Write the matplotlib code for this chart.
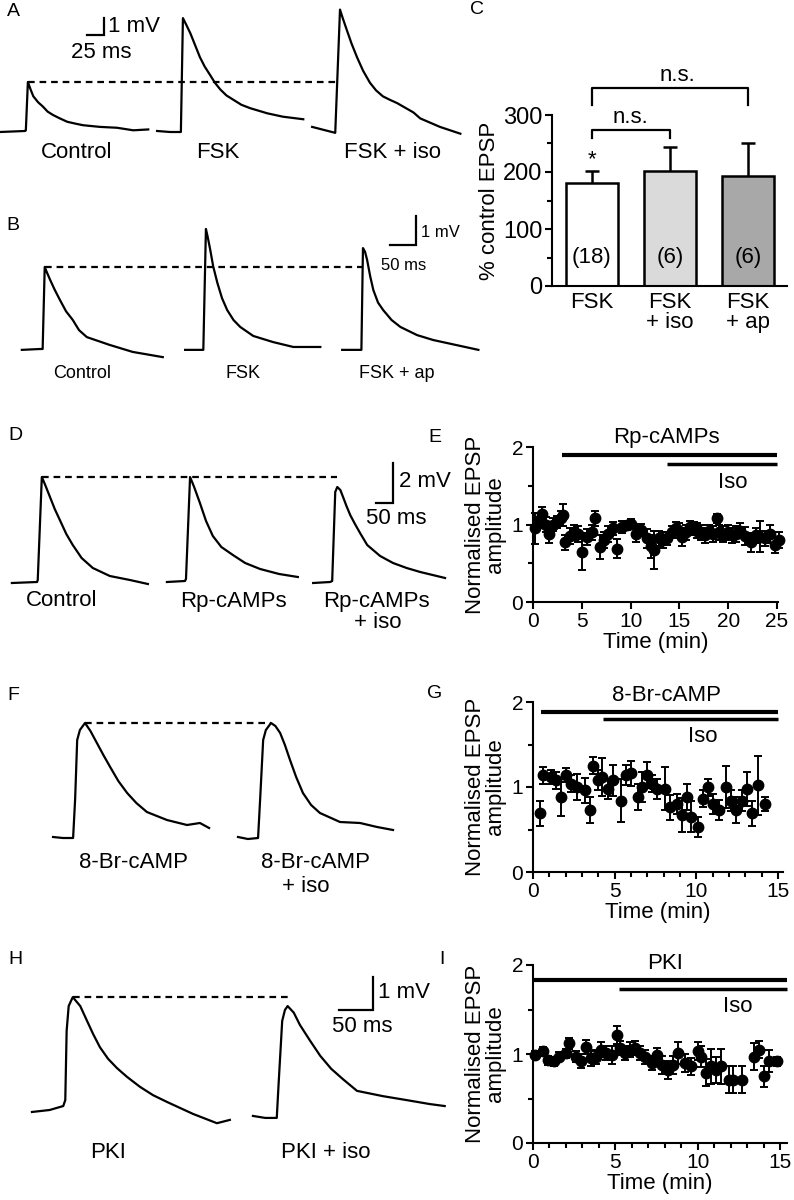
import numpy as np
import matplotlib
matplotlib.use("Agg")
import matplotlib.pyplot as plt
from matplotlib.ticker import MultipleLocator

plt.rcParams['font.family'] = ['Liberation Sans', 'DejaVu Sans']

W, H = 794, 1200

# ---- EPSP traces: time (ms from trace start), voltage (mV from baseline) ----
a_ctrl_t = [0, 37, 38, 41, 45, 49, 56, 63, 70, 78, 88, 99, 110, 122, 147, 172, 196, 218]
a_ctrl_v = [0, 0.06, 0.1, 2.94, 2.5, 2.1, 1.75, 1.5, 1.2, 1.0, 0.8, 0.6, 0.5, 0.4, 0.3, 0.25,
            0.1, 0.15]
a_fsk_t = [0, 19, 35, 38, 43, 49, 56, 63, 70, 78, 85, 93, 102, 112, 124, 137, 162, 185, 215]
a_fsk_v = [0.06, 0, 0, 6.7, 6.3, 5.8, 5.1, 4.4, 3.85, 3.35, 2.9, 2.5, 2.15, 1.9, 1.6, 1.4,
           1.1, 0.9, 0.75]
a_iso_t = [0, 34, 41, 45, 51, 58, 66, 75, 85, 94, 104, 114, 125, 149, 159, 188, 218]
a_iso_v = [0.3, -0.05, 7.2, 6.7, 6.0, 5.2, 4.4, 3.6, 2.9, 2.45, 2.1, 1.9, 1.7, 1.15, 0.8,
           0.3, -0.1]

b_ctrl_t = [0, 35, 40, 44, 48, 54, 63, 73, 85, 98, 110, 125, 169, 213, 271]
b_ctrl_v = [-0.03, 0, 0, 2.83, 2.65, 2.4, 2.05, 1.7, 1.3, 1.0, 0.65, 0.41, 0.14, -0.1, -0.28]
b_fsk_t = [0, 35, 40, 43, 48, 54, 62, 71, 81, 93, 106, 131, 169, 208, 260]
b_fsk_v = [-0.03, -0.03, 4.14, 3.9, 3.45, 2.85, 2.28, 1.75, 1.34, 1.0, 0.76, 0.45, 0.24,
           0.07, 0.07]
b_ap_t = [0, 37, 40, 44, 48, 54, 60, 69, 79, 95, 112, 144, 175, 262]
b_ap_v = [-0.03, -0.03, 3.48, 3.35, 3.07, 2.5, 2.03, 1.6, 1.34, 1.0, 0.76, 0.48, 0.31, -0.03]

d_ctrl_t = [0, 74, 76, 88, 98, 112, 126, 141, 160, 179, 205, 238, 288, 347, 400]
d_ctrl_v = [-0.05, 0, 0.1, 5.25, 4.85, 4.25, 3.65, 3.1, 2.4, 1.85, 1.2, 0.7, 0.3, 0.1, -0.1]
d_rp_t = [0, 53, 56, 68, 80, 97, 115, 135, 160, 194, 230, 274, 330, 385]
d_rp_v = [0, 0.05, 0.15, 5.25, 4.75, 3.95, 3.05, 2.3, 1.75, 1.35, 0.95, 0.65, 0.4, 0.25]
d_iso_t = [0, 50, 56, 65, 71, 80, 88, 98, 109, 123, 138, 159, 197, 235, 275, 315, 388]
d_iso_v = [-0.05, 0, 0.05, 4.5, 4.75, 4.6, 4.25, 3.8, 3.35, 2.9, 2.45, 1.85, 1.3, 0.95, 0.7,
           0.5, 0.2]

f_br_t = [0, 29, 59, 65, 71, 79, 94, 110, 129, 148, 168, 192, 218, 245, 276, 335, 394, 432,
          459]
f_br_v = [0, -0.05, -0.05, 1.9, 4.85, 5.35, 5.7, 5.3, 4.7, 4.1, 3.5, 2.8, 2.2, 1.7, 1.25,
          0.85, 0.6, 0.7, 0.45]
f_iso_t = [0, 29, 59, 65, 74, 82, 97, 110, 124, 138, 153, 171, 191, 215, 241, 300, 359, 409,
           456]
f_iso_v = [0, -0.1, -0.05, 1.85, 4.85, 5.35, 5.7, 5.55, 5.2, 4.6, 3.85, 3.0, 2.2, 1.6, 1.2,
           0.75, 0.7, 0.5, 0.35]

h_pki_t = [0, 26, 46, 49, 51, 54, 60, 71, 81, 90, 100, 112, 125, 140, 159, 178, 199, 237,
           272, 291]
h_pki_v = [-0.06, 0, 0.12, 0.3, 2.4, 3.15, 3.42, 3.15, 2.7, 2.3, 1.9, 1.55, 1.27, 1.0, 0.7,
           0.45, 0.24, -0.12, -0.4, -0.3]
h_iso_t = [0, 18, 35, 38, 43, 47, 51, 60, 69, 84, 99, 115, 132, 153, 191, 226, 260, 282]
h_iso_v = [-0.18, -0.24, -0.24, 0.9, 2.7, 3.03, 3.15, 2.95, 2.58, 2.1, 1.64, 1.25, 0.94,
           0.58, 0.42, 0.3, 0.18, 0.12]

# ---- panel C ----
c_labels = ['FSK', 'FSK\n+ iso', 'FSK\n+ ap']
c_means = [181, 201, 193]
c_sem = [21, 43, 58]
c_n = ['(18)', '(6)', '(6)']
c_colors = ['white', '#dadada', '#a8a8a8']

# ---- panel E ----
e_t = [0.2, 0.5, 0.9, 1.3, 1.6, 2.0, 2.5, 2.9, 3.1, 3.3, 3.8, 4.2, 4.6, 5.0, 5.5,
       6.0, 6.4, 6.9, 7.3, 7.7, 8.2, 8.6, 9.1, 9.6, 10.0, 10.6, 11.1, 11.7, 12.1, 12.4,
       12.9, 13.3, 13.7, 14.2, 14.6, 15.0, 15.3, 15.7, 16.1, 16.5, 16.8, 17.2, 17.6, 18.0,
       18.4, 18.8, 19.1, 19.5, 20.0, 20.4, 20.8, 21.2, 21.7, 22.3, 22.8, 23.3, 23.8, 24.3,
       24.8, 25.2]
e_v = [0.95, 1.05, 1.14, 1.0, 0.88, 1.0, 1.03, 1.08, 1.12, 0.77, 0.85, 0.9, 0.88, 0.65, 0.84,
       0.9, 1.08, 0.71, 0.8, 0.88, 0.95, 0.69, 0.97, 0.99, 1.01, 0.88, 0.93, 0.82, 0.72, 0.67,
       0.82, 0.8, 0.82, 0.9, 0.95, 0.92, 0.84, 0.9, 0.97, 0.95, 0.92, 0.9, 0.86, 0.92,
       0.88, 1.08, 0.9, 0.88, 0.9, 0.86, 0.88, 0.92, 0.85, 0.77, 0.86, 0.84, 0.82, 0.88,
       0.73, 0.8]
e_e = [0.2, 0.1, 0.08, 0.1, 0.12, 0.08, 0.08, 0.1, 0.14, 0.1, 0.1, 0.1, 0.1, 0.24, 0.1,
       0.1, 0.1, 0.15, 0.1, 0.1, 0.08, 0.12, 0.08, 0.06, 0.06, 0.1, 0.08, 0.12, 0.15, 0.24,
       0.1, 0.1, 0.08, 0.08, 0.08, 0.1, 0.12, 0.1, 0.08, 0.08, 0.1, 0.1, 0.1, 0.08,
       0.1, 0.06, 0.1, 0.1, 0.1, 0.1, 0.1, 0.1, 0.12, 0.12, 0.1, 0.2, 0.1, 0.12,
       0.1, 0.1]

# ---- panel G ----
g_t = [0.4, 0.6, 1.1, 1.4, 1.7, 2.0, 2.3, 2.7, 3.2, 3.5, 3.7, 4.0, 4.2, 4.6, 4.9, 5.4,
       5.7, 6.0, 6.4, 6.7, 7.0, 7.3, 7.6, 8.1, 8.4, 8.8, 9.1, 9.4, 9.7, 10.1, 10.4, 10.7,
       11.0, 11.4, 11.8, 12.1, 12.4, 12.8, 13.1, 13.4, 13.8, 14.2]
g_v = [0.69, 1.14, 1.12, 1.08, 0.88, 1.14, 1.04, 1.0, 0.96, 0.73, 1.25, 1.08, 1.12, 0.98,
       1.08, 0.84, 1.14, 1.16, 0.88, 1.0, 1.14, 1.04, 0.98, 0.98, 0.76, 0.8, 0.67, 0.88,
       0.65, 0.53, 0.86, 1.0, 0.8, 0.73, 1.0, 0.84, 0.73, 0.84, 0.98, 0.69, 1.02, 0.8]
g_e = [0.15, 0.1, 0.08, 0.1, 0.22, 0.08, 0.1, 0.15, 0.15, 0.15, 0.1, 0.12, 0.22, 0.12,
       0.18, 0.25, 0.12, 0.15, 0.15, 0.18, 0.15, 0.1, 0.12, 0.25, 0.15, 0.12, 0.2, 0.15,
       0.18, 0.12, 0.1, 0.1, 0.12, 0.12, 0.25, 0.12, 0.15, 0.12, 0.2, 0.15, 0.35, 0.08]

# ---- panel I ----
i_t = [0.1, 0.6, 0.9, 1.3, 1.6, 2.0, 2.2, 2.6, 2.9, 3.2, 3.5, 3.8, 4.1, 4.4, 4.8, 5.1,
       5.3, 5.6, 5.9, 6.2, 6.5, 6.8, 7.2, 7.5, 7.8, 8.2, 8.5, 8.8, 9.2, 9.6, 10.0, 10.2,
       10.5, 10.8, 11.1, 11.4, 11.9, 12.1, 12.7, 13.4, 13.7, 14.0, 14.3, 14.8]
i_v = [0.99, 1.03, 0.93, 0.92, 0.97, 1.01, 1.12, 0.97, 0.92, 1.08, 0.95, 0.97, 1.05, 1.01,
       0.99, 1.21, 1.07, 1.01, 1.05, 1.07, 1.01, 0.97, 0.9, 0.99, 0.88, 0.82, 0.88, 1.01,
       0.9, 0.86, 1.03, 0.97, 0.79, 0.86, 0.82, 0.86, 0.71, 0.71, 0.71, 0.97, 1.05, 0.75,
       0.92, 0.92]
i_e = [0.04, 0.05, 0.05, 0.05, 0.05, 0.05, 0.06, 0.06, 0.08, 0.08, 0.08, 0.08, 0.08, 0.08,
       0.1, 0.1, 0.08, 0.08, 0.08, 0.08, 0.08, 0.08, 0.08, 0.08, 0.1, 0.1, 0.1, 0.12,
       0.1, 0.1, 0.1, 0.12, 0.15, 0.2, 0.15, 0.2, 0.15, 0.15, 0.15, 0.15, 0.1, 0.12,
       0.12, 0.05]

fig = plt.figure(figsize=(W / 100, H / 100), dpi=100)


def px_axes(x0, y0, x1, y1):
    return fig.add_axes([x0 / W, 1 - y1 / H, (x1 - x0) / W, (y1 - y0) / H])


def ptext(x, y, s, size=16, ha='center', va='center', **kw):
    fig.text(x / W, 1 - y / H, s, fontsize=size, ha=ha, va=va, **kw)


def trace_row(y0, y1, base, px_ms, px_mv, traces, offsets):
    ax = px_axes(0, y0, 480, y1)
    ax.set_xlim(0, 480 / px_ms)
    ax.set_ylim((base - y1) / px_mv, (base - y0) / px_mv)
    ax.axis('off')
    for (t, v), off in zip(traces, offsets):
        ax.plot(np.asarray(t) + off, v, color='k', lw=1.6, solid_joinstyle='round')
    t0, v0 = traces[0]
    tl, vl = traces[-1]
    i0, il = int(np.argmax(v0)), int(np.argmax(vl))
    ax.plot([t0[i0] + offsets[0], tl[il] + offsets[-1]], [v0[i0], v0[i0]],
            color='k', lw=1.6, ls=(0, (3, 2.2)))
    return ax


def scale_bar(ax, x_px, y_px, base, px_ms, px_mv, ms, mv):
    t = x_px / px_ms
    v = (base - y_px) / px_mv
    ax.plot([t - ms, t, t], [v, v, v + mv], color='k', lw=1.6, solid_joinstyle='miter')


# A
ax = trace_row(0, 150, 132, 0.68, 17,
               [(a_ctrl_t, a_ctrl_v), (a_fsk_t, a_fsk_v), (a_iso_t, a_iso_v)], [0, 231, 459])
scale_bar(ax, 104, 35, 132, 0.68, 17, 25, 1)
ptext(108, 26, '1 mV', ha='left')
ptext(101, 52, '25 ms')
for x, s in zip([77, 218, 392], ['Control', 'FSK', 'FSK + iso']):
    ptext(x, 153, s)

# B
ax = trace_row(200, 365, 349, 0.52, 29,
               [(b_ctrl_t, b_ctrl_v), (b_fsk_t, b_fsk_v), (b_ap_t, b_ap_v)], [42, 356, 658])
scale_bar(ax, 416, 245, 349, 0.52, 29, 50, 1)
ptext(421, 233, '1 mV', size=12, ha='left')
ptext(404, 266, '50 ms', size=12)
for x, s in zip([82, 243, 397], ['Control', 'FSK', 'FSK + ap']):
    ptext(x, 373, s, size=13)

# D
ax = trace_row(460, 600, 582, 0.34, 20,
               [(d_ctrl_t, d_ctrl_v), (d_rp_t, d_rp_v), (d_iso_t, d_iso_v)], [35, 491, 921])
scale_bar(ax, 393, 503, 582, 0.34, 20, 50, 2)
ptext(399, 482, '2 mV', ha='left')
ptext(396, 518, '50 ms')
ptext(62, 601, 'Control')
ptext(233, 601, 'Rp-cAMPs')
ptext(376, 601, 'Rp-cAMPs')
ptext(378, 623, '+ iso')

# F
trace_row(710, 845, 837, 0.34, 20, [(f_br_t, f_br_v), (f_iso_t, f_iso_v)], [156, 700])
ptext(133, 862, '8-Br-cAMP')
ptext(316, 862, '8-Br-cAMP')
ptext(306, 886, '+ iso')

# H
ax = trace_row(975, 1130, 1110, 0.68, 33, [(h_pki_t, h_pki_v), (h_iso_t, h_iso_v)], [47, 372])
scale_bar(ax, 373, 1010, 1110, 0.68, 33, 50, 1)
ptext(378, 992, '1 mV', ha='left')
ptext(362, 1027, '50 ms')
ptext(108, 1152, 'PKI')
ptext(326, 1152, 'PKI + iso')

# panel letters
for x, y, s in [(13, 12, 'A'), (13, 225, 'B'), (477, 10, 'C'), (15, 435, 'D'), (435, 437, 'E'),
                (13, 695, 'F'), (435, 693, 'G'), (15, 960, 'H'), (442, 960, 'I')]:
    ptext(x, y, s, size=14)


def style_axes(ax):
    for sp in ['top', 'right']:
        ax.spines[sp].set_visible(False)
    for sp in ['left', 'bottom']:
        ax.spines[sp].set_linewidth(1.5)
    ax.tick_params(which='both', direction='out', width=1.5, labelsize=15, pad=2)
    ax.tick_params(which='major', length=5)
    ax.tick_params(which='minor', length=3.5)


# C
axc = px_axes(552, 115, 787, 286)
x = np.arange(len(c_means))
axc.bar(x, c_means, width=0.67, color=c_colors, edgecolor='k', linewidth=1.8, zorder=2)
axc.errorbar(x, c_means, yerr=[np.zeros(3), c_sem], fmt='none', ecolor='k',
             elinewidth=1.8, capsize=0, zorder=1)
for xi, m, s in zip(x, c_means, c_sem):
    axc.plot([xi], [m + s], marker='_', ms=10, mew=1.8, color='k')
for xi, s in zip(x, c_n):
    axc.text(xi, 50, s, ha='center', va='center', fontsize=16)
axc.text(0, c_means[0] + c_sem[0] + 20, '*', ha='center', va='center', fontsize=16)
axc.plot([0, 0, 1, 1], [260, 274, 274, 260], color='k', lw=1.6, clip_on=False)
axc.text(0.5, 295, 'n.s.', ha='center', va='center', fontsize=16)
axc.plot([0, 0, 2, 2], [318, 347, 347, 318], color='k', lw=1.6, clip_on=False)
axc.text(1.1, 370, 'n.s.', ha='center', va='center', fontsize=16, clip_on=False)
axc.set_xlim(-0.51, 2.5)
axc.set_ylim(0, 300)
axc.set_yticks([0, 100, 200, 300])
axc.yaxis.set_minor_locator(MultipleLocator(50))
axc.set_xticks(x)
axc.set_xticklabels(c_labels, fontsize=16, linespacing=0.95)
style_axes(axc)
axc.tick_params(axis='y', labelsize=17)
axc.tick_params(axis='x', length=0, pad=4, labelsize=16)
axc.set_ylabel('% control EPSP', fontsize=16, labelpad=2)


def time_panel(rect, t, v, e, xmax, xright, minor, drug, d_span, iso_span, d_y, iso_y,
               d_txt, iso_txt):
    ax = px_axes(*rect)
    ax.errorbar(t, v, yerr=e, fmt='o', color='k', ms=7.5, elinewidth=1.4, capsize=3,
                capthick=1.4, clip_on=False, zorder=3)
    ax.plot(d_span, [d_y, d_y], color='k', lw=3, solid_capstyle='butt', clip_on=False)
    ax.plot(iso_span, [iso_y, iso_y], color='k', lw=2.5, solid_capstyle='butt', clip_on=False)
    ax.text(d_txt[0], d_txt[1], drug, ha='center', va='center', fontsize=16, clip_on=False)
    ax.text(iso_txt[0], iso_txt[1], 'Iso', ha='center', va='center', fontsize=16,
            clip_on=False)
    ax.set_xlim(0, xright)
    ax.set_ylim(0, 2)
    ax.set_xticks(np.arange(0, xmax + 1, 5))
    ax.set_yticks([0, 1, 2])
    ax.yaxis.set_minor_locator(MultipleLocator(0.5))
    if minor:
        ax.xaxis.set_minor_locator(MultipleLocator(minor))
    style_axes(ax)
    ax.set_xlabel('Time (min)', fontsize=16, labelpad=1)
    ax.set_ylabel('Normalised EPSP\namplitude', fontsize=16, labelpad=4, linespacing=0.95)
    return ax


time_panel((533, 447, 778, 602), e_t, e_v, e_e, 25, 25.1, None, 'Rp-cAMPs',
           [3, 25], [13.7, 25], 1.9, 1.78, (13.7, 2.12), (20.5, 1.54))
time_panel((533, 702, 783, 872), g_t, g_v, g_e, 15, 15.3, 1, '8-Br-cAMP',
           [0.5, 15], [4.3, 15], 1.88, 1.8, (8.2, 2.08), (10.4, 1.6))
time_panel((533, 965, 787, 1143), i_t, i_v, i_e, 15, 15.4, 1, 'PKI',
           [0, 15.4], [5.2, 15.4], 1.83, 1.73, (8.0, 2.02), (12.4, 1.53))

fig.savefig('out.png', dpi=100)
